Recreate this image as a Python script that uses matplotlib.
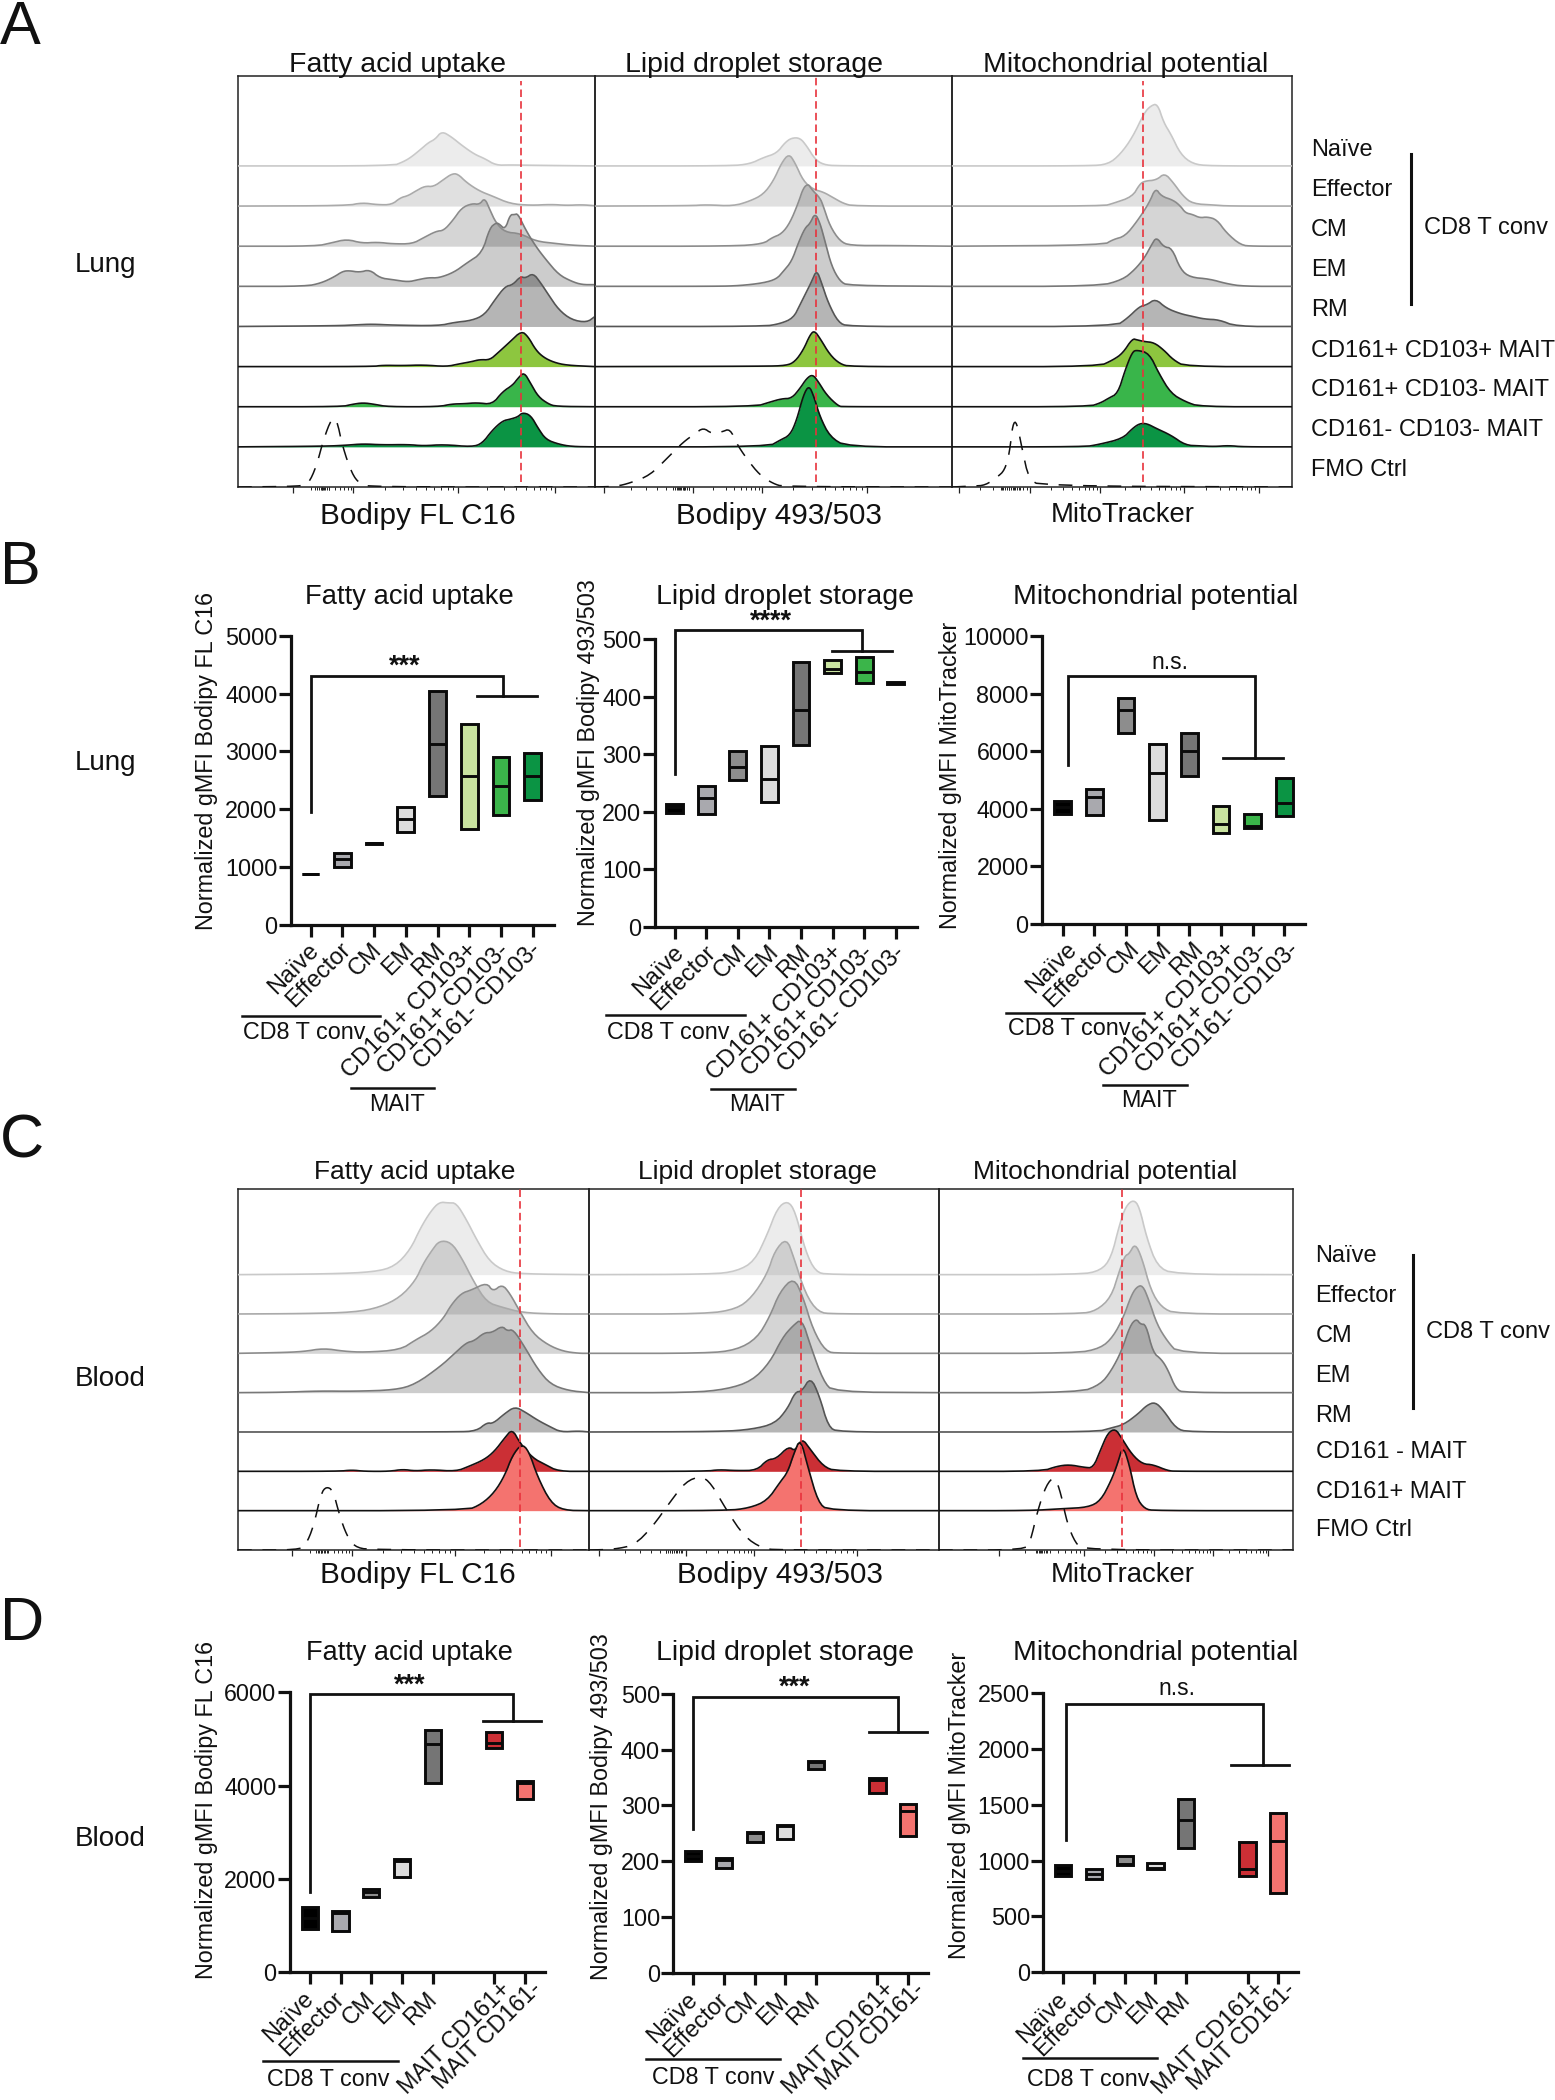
import numpy as np
import matplotlib
matplotlib.use("Agg")
import matplotlib.pyplot as plt
from matplotlib.transforms import ScaledTranslation

plt.rcParams['font.family'] = ['Liberation Sans', 'DejaVu Sans']
W, H, DPI = 1555, 2100, 100

# ------------------ histogram traces (channel, count) ------------------
A1_naive = [(467,0),(770,0),(790,12),(805,25),(825,50),(840,70),(853,80),(866,104),(885,87),(905,62),(930,35),(950,22),(972,2),(1000,3),(1040,2),(1166,0)]
A1_eff = [(467,0),(680,1),(710,10),(740,4),(768,4),(785,25),(800,31),(815,45),(833,60),(850,58),(870,80),(885,96),(897,97),(915,70),(940,45),(965,30),(1000,7),(1040,2),(1080,5),(1110,2),(1140,4),(1166,1)]
A1_cm = [(467,0),(620,0),(650,10),(680,21),(710,9),(740,12),(770,7),(808,7),(830,25),(855,45),(870,47),(888,78),(905,115),(925,128),(940,125),(950,145),(960,110),(972,70),(990,42),(1020,38),(1050,15),(1090,8),(1120,3),(1166,0)]
A1_em = [(467,0),(600,0),(630,10),(655,28),(672,45),(685,47),(705,42),(725,50),(745,25),(770,20),(800,13),(820,20),(840,26),(860,25),(890,42),(915,70),(945,100),(960,175),(972,190),(978,188),(990,170),(1000,215),(1008,215),(1015,218),(1030,170),(1050,120),(1070,80),(1095,35),(1120,15),(1140,5),(1166,5)]
A1_rm = [(467,0),(660,2),(700,5),(730,7),(770,4),(860,2),(890,12),(925,18),(950,35),(970,80),(990,120),(1005,125),(1020,150),(1030,145),(1045,160),(1060,130),(1075,95),(1095,50),(1120,20),(1150,12),(1166,30)]
A1_m1 = [(467,0),(730,0),(750,4),(790,3),(830,5),(875,0),(900,8),(925,15),(940,21),(960,20),(975,40),(1000,75),(1022,107),(1035,90),(1050,50),(1065,28),(1085,13),(1110,4),(1166,0)]
A1_m2 = [(467,0),(670,0),(690,7),(712,12),(735,7),(760,0),(860,0),(885,8),(910,9),(935,12),(965,7),(985,45),(1005,65),(1015,85),(1027,104),(1040,70),(1055,30),(1075,8),(1090,1),(1166,0)]
A1_m3 = [(467,0),(640,2),(680,5),(712,9),(750,6),(800,7),(830,3),(870,7),(925,0),(945,10),(965,50),(985,78),(1000,83),(1015,90),(1024,103),(1040,95),(1055,55),(1070,22),(1095,8),(1120,1),(1166,0)]
A1_fmo = [(467,0),(590,2),(605,10),(620,60),(635,145),(650,205),(660,205),(672,120),(690,40),(705,10),(725,0),(1166,0)]

A2_naive = [(15,0),(420,0),(480,6),(520,25),(560,38),(585,70),(605,84),(630,84),(650,60),(675,20),(700,4),(740,0),(1086,0)]
A2_eff = [(15,0),(300,1),(350,4),(430,0),(480,15),(520,35),(550,75),(575,130),(597,157),(615,130),(640,75),(670,50),(700,42),(730,25),(760,8),(790,0),(1086,0)]
A2_cm = [(15,0),(430,0),(520,7),(545,25),(575,37),(600,70),(625,130),(640,175),(655,187),(665,170),(690,145),(700,120),(720,60),(750,15),(780,2),(900,2),(1086,0)]
A2_em = [(15,0),(380,0),(450,2),(520,10),(560,22),(580,45),(605,75),(625,130),(645,175),(660,188),(675,220),(690,190),(705,135),(725,60),(750,15),(775,2),(1086,0)]
A2_rm = [(15,0),(520,0),(570,8),(610,25),(630,65),(650,105),(665,135),(680,170),(695,130),(715,70),(745,12),(775,0),(1086,0)]
A2_m1 = [(15,0),(520,1),(590,3),(615,15),(640,50),(660,95),(673,108),(690,85),(720,35),(750,8),(780,0),(1086,0)]
A2_m2 = [(15,0),(495,0),(540,14),(575,24),(605,25),(630,55),(650,85),(668,97),(685,75),(710,35),(745,2),(760,0),(1086,0)]
A2_m3 = [(15,0),(535,0),(570,20),(600,35),(620,80),(640,155),(657,185),(672,150),(690,90),(720,30),(770,0),(1086,0)]
A2_fmo = [(15,0),(80,2),(120,12),(180,35),(235,90),(280,135),(315,160),(340,178),(365,160),(395,165),(420,175),(440,130),(470,85),(510,35),(550,10),(580,1),(1086,0)]

A3_naive = [(316,0),(600,0),(640,5),(665,35),(690,85),(715,160),(728,180),(742,187),(755,130),(770,95),(790,35),(815,6),(850,0),(1021,0)]
A3_eff = [(316,0),(630,0),(650,8),(690,28),(705,65),(715,75),(740,78),(757,99),(775,70),(795,30),(815,7),(860,3),(890,0),(1021,0)]
A3_cm = [(316,0),(630,3),(650,20),(675,30),(700,75),(725,130),(738,175),(750,150),(775,138),(790,120),(800,100),(815,95),(830,85),(845,88),(865,80),(885,40),(915,3),(940,0),(1021,0)]
A3_em = [(316,0),(620,0),(670,20),(695,50),(715,85),(730,125),(740,148),(755,118),(772,115),(790,50),(810,27),(850,22),(885,8),(920,0),(1021,0)]
A3_rm = [(316,0),(655,0),(680,25),(705,60),(720,65),(738,83),(760,55),(790,38),(815,30),(840,22),(870,20),(905,0),(1021,0)]
A3_m1 = [(316,0),(620,0),(650,20),(670,40),(690,84),(700,80),(715,75),(735,72),(755,50),(775,20),(800,0),(1021,0)]
A3_m2 = [(316,0),(600,0),(625,12),(640,25),(660,40),(675,110),(690,165),(700,170),(725,160),(745,100),(770,40),(800,15),(830,0),(1021,0)]
A3_m3 = [(316,0),(590,0),(620,7),(670,25),(690,55),(705,70),(720,70),(740,55),(770,35),(800,5),(830,3),(860,1),(890,4),(920,0),(1021,0)]
A3_fmo = [(316,0),(360,3),(385,5),(410,30),(425,50),(435,100),(442,190),(450,197),(462,110),(475,25),(500,3),(1021,0)]

C1_naive = [(172,0),(350,2),(440,8),(480,25),(510,75),(530,140),(550,190),(567,218),(585,215),(600,215),(620,165),(640,105),(665,40),(695,10),(730,2),(861,0)]
C1_eff = [(172,0),(300,1),(400,5),(450,20),(490,50),(520,100),(535,150),(552,190),(567,220),(590,215),(610,170),(635,95),(660,35),(690,20),(730,4),(790,0),(861,0)]
C1_cm = [(172,0),(250,2),(300,5),(340,15),(380,6),(420,3),(490,10),(520,40),(550,65),(575,105),(590,145),(610,180),(630,190),(660,212),(672,185),(690,207),(705,180),(725,125),(750,60),(780,25),(810,6),(840,0),(861,0)]
C1_em = [(172,0),(260,1),(330,5),(400,4),(480,8),(520,25),(570,80),(595,115),(620,150),(635,155),(655,180),(670,180),(690,200),(700,185),(712,190),(735,135),(760,70),(785,25),(820,6),(861,0)]
C1_rm = [(172,0),(600,0),(640,3),(660,28),(672,25),(695,55),(715,76),(735,60),(760,35),(785,15),(805,0),(840,3),(861,0)]
C1_r1 = [(172,0),(370,0),(395,4),(420,0),(470,0),(495,6),(520,1),(550,5),(600,0),(625,15),(655,35),(675,60),(695,100),(710,127),(725,85),(750,40),(775,20),(800,0),(861,0)]
C1_r2 = [(172,0),(620,0),(650,20),(675,55),(695,105),(710,165),(728,200),(742,180),(760,100),(785,25),(810,1),(861,0)]
C1_fmo = [(172,0),(290,0),(305,15),(320,70),(335,170),(345,190),(358,180),(372,100),(385,45),(400,10),(430,0),(861,0)]

C2_naive = [(861,0),(1100,1),(1150,10),(1185,40),(1210,120),(1230,200),(1250,222),(1265,190),(1285,70),(1305,8),(1330,0),(1547,0)]
C2_eff = [(861,0),(1090,0),(1150,15),(1180,50),(1210,120),(1225,190),(1248,228),(1262,170),(1285,60),(1310,5),(1340,0),(1547,0)]
C2_cm = [(861,0),(1090,0),(1150,10),(1190,45),(1215,110),(1235,185),(1262,228),(1280,170),(1300,70),(1325,5),(1350,0),(1547,0)]
C2_em = [(861,0),(1060,0),(1130,10),(1180,35),(1215,90),(1240,165),(1260,200),(1278,222),(1295,140),(1320,35),(1340,2),(1547,0)]
C2_rm = [(861,0),(1120,1),(1180,8),(1225,25),(1250,70),(1265,120),(1278,122),(1295,165),(1312,110),(1330,15),(1350,0),(1547,0)]
C2_r1 = [(861,0),(1090,0),(1115,5),(1150,2),(1190,3),(1210,35),(1228,38),(1252,75),(1265,60),(1278,100),(1295,65),(1320,15),(1345,0),(1547,0)]
C2_r2 = [(861,0),(1130,0),(1175,8),(1210,30),(1235,85),(1250,115),(1262,170),(1275,218),(1290,130),(1310,25),(1330,0),(1547,0)]
C2_fmo = [(861,0),(910,2),(950,15),(985,70),(1020,145),(1050,205),(1080,222),(1100,200),(1130,120),(1165,40),(1200,5),(1230,0),(1547,0)]

C3_naive = [(94,0),(430,0),(480,12),(505,50),(525,150),(540,205),(558,225),(572,205),(590,110),(615,25),(655,1),(938,0)]
C3_eff = [(94,0),(430,0),(470,10),(505,50),(525,130),(538,175),(548,180),(562,212),(578,170),(600,70),(625,20),(660,0),(938,0)]
C3_cm = [(94,0),(420,0),(480,15),(510,50),(535,110),(552,170),(565,198),(580,205),(595,160),(615,85),(640,35),(665,0),(938,0)]
C3_em = [(94,0),(430,0),(480,25),(505,65),(530,125),(550,200),(565,222),(575,205),(588,205),(605,120),(625,100),(640,70),(660,10),(680,0),(938,0)]
C3_rm = [(94,0),(470,0),(505,12),(535,22),(570,55),(590,80),(610,90),(630,65),(660,10),(690,0),(938,0)]
C3_r1 = [(94,0),(340,0),(375,15),(405,20),(440,12),(462,10),(480,65),(497,115),(515,128),(530,100),(555,50),(580,22),(605,20),(640,2),(660,0),(938,0)]
C3_r2 = [(94,0),(310,0),(390,6),(450,10),(480,30),(505,90),(520,140),(533,195),(548,140),(565,40),(585,5),(610,0),(938,0)]
C3_fmo = [(94,0),(300,0),(312,25),(330,120),(350,195),(370,222),(385,170),(400,80),(420,20),(440,0),(938,0)]

# ------------------ floating-bar values ------------------
B_cats = ['Naïve','Effector','CM','EM','RM','CD161+ CD103+','CD161+ CD103-','CD161- CD103-']
B1_low  = [868,990,1400,1604,2229,1660,1901,2155]
B1_med  = [872,1132,1406,1825,3137,2568,2407,2574]
B1_high = [876,1249,1412,2041,4046,3476,2907,2975]
B2_low  = [197,196,255,216,316,441,423,421]
B2_med  = [208,224,277,257,376,448,443,423]
B2_high = [213,245,306,314,460,463,468,425]
B3_low  = [3819,3794,6632,3596,5132,3150,3336,3745]
B3_med  = [4050,4399,7423,5254,5998,3482,3408,4213]
B3_high = [4260,4694,7854,6255,6639,4099,3814,5078]

D_cats = ['Naïve','Effector','CM','EM','RM','MAIT CD161+','MAIT CD161-']
D_pos = [0,1,2,3,4,6,7]
D1_low  = [919,883,1612,2042,4052,4802,3715]
D1_med  = [1150,1260,1723,2390,4890,4920,4060]
D1_high = [1385,1313,1778,2428,5182,5146,4102]
D2_low  = [200,188,234,239,365,322,246]
D2_med  = [210,203,250,263,378,345,290]
D2_high = [218,206,252,265,380,350,303]
D3_low  = [864,837,957,924,1112,864,709]
D3_med  = [910,879,965,932,1365,929,1171]
D3_high = [964,922,1041,982,1549,1170,1424]

A_rows = ['Naïve','Effector','CM','EM','RM','CD161+ CD103+ MAIT','CD161+ CD103- MAIT','CD161- CD103- MAIT','FMO Ctrl']
C_rows = ['Naïve','Effector','CM','EM','RM','CD161 - MAIT','CD161+ MAIT','FMO Ctrl']

GRAY_A = [.075,.12,.165,.2,.29]
GRAY_L = ['#c9c9c9','#aaaaaa','#8c8c8c','#787878','#555555']
GREEN = ['#8dc63f','#39b54a','#0b9444']
REDS = ['#cb2f35','#f4736f']
B_col = ['#000000','#a9a9ae','#8d8d8d','#dddddd','#757575','#c9e3a0','#3bb54a','#0b9444']
D_col = ['#000000','#a9a9ae','#8d8d8d','#dddddd','#757575','#cc2f35','#f4736f']

fig = plt.figure(figsize=(W/DPI, H/DPI), dpi=DPI, facecolor='white')

def axpx(l, t, r, b):
    return fig.add_axes([l/W, 1-b/H, (r-l)/W, (b-t)/H])

def T(x, y, s, fs=16.5, ha='center', va='center', **k):
    if va == 'center':
        if k.get('rotation'):
            x += 2.5
        else:
            y += 2.5
    return fig.text(x/W, 1-y/H, s, fontsize=fs, ha=ha, va=va, color='#111111', **k)

def minors(majors, cluster):
    out = list(cluster)
    m = list(majors)
    fr = np.log10(np.arange(2, 10))
    for a, b in zip(m[:-1], m[1:]):
        out += list(a + (b-a)*fr)
    return out

def rounded(x, y, n=2):
    """Round the corners of a trace when it is drawn (the read values stay as they are)."""
    p = np.column_stack([x, y]).astype(float)
    for _ in range(n):
        q = np.empty((2*(len(p)-1), 2))
        q[0::2] = .75*p[:-1] + .25*p[1:]
        q[1::2] = .25*p[:-1] + .75*p[1:]
        p = np.vstack([p[:1], q, p[-1:]])
    return p[:, 0], p[:, 1]

def ridge(box, xlim, rows, spacing, top, curves, reds, majors, cluster, redspan):
    ax = axpx(*box)
    ax.set_xlim(*xlim); ax.set_ylim(0, top)
    n = len(curves)
    for i, tr in enumerate(curves):
        x, h = rounded([p[0] for p in tr], [p[1] for p in tr])
        base = (n-1-i)*spacing
        y = base + h
        if i == n-1:                                    # FMO control
            ax.plot(x, y, color='#111111', lw=1.1, dashes=(9, 7), zorder=6)
            continue
        if i < 5:
            ax.fill_between(x, base, y, color='k', alpha=GRAY_A[i], lw=0, zorder=2+i*.1)
            ax.plot(x, y, color=GRAY_L[i], lw=1.2, zorder=3+i*.1)
        else:
            col = rows[i-5]
            ax.fill_between(x, base, y, color=col, lw=0, zorder=3.5+i*.1)
            ax.plot(x, y, color='#111111', lw=1.2, zorder=3.6+i*.1)
    ax.axvline(reds, ymin=redspan[0], ymax=redspan[1], color='#e8323c', lw=1.2, dashes=(4.5, 2.5), zorder=8)
    for s in ax.spines.values():
        s.set_linewidth(1.1); s.set_color('#222222')
    ax.set_yticks([])
    ax.set_xticks(majors)
    ax.set_xticks(minors(majors, cluster), minor=True)
    ax.tick_params(axis='x', which='major', length=4.5, width=.9, labelbottom=False, color='#222222')
    ax.tick_params(axis='x', which='minor', length=2.2, width=.7, color='#222222')
    ax.patch.set_alpha(0)
    return ax

# ------------- Panel A
spA, topA = 120.4, 1233
ridge((238,76,595,487),(467,1166),GREEN,spA,topA,[A1_naive,A1_eff,A1_cm,A1_em,A1_rm,A1_m1,A1_m2,A1_m3,A1_fmo],1022,[575,693,897,1088],[618,622,626,630,632,634,636,638,642,646],(.012,.988))
ridge((595,76,952,487),(15,1086),GREEN,spA,topA,[A2_naive,A2_eff,A2_cm,A2_em,A2_rm,A2_m1,A2_m2,A2_m3,A2_fmo],677,[42,308,515,830],[255,260,265,270,274,278,282,286,292,298],(.012,1))
ridge((952,76,1292,487),(316,1021),GREEN,spA,topA,[A3_naive,A3_eff,A3_cm,A3_em,A3_rm,A3_m1,A3_m2,A3_m3,A3_fmo],712,[330,478,623,797,952],[418,422,426,430,434,438,442,446,450,456],(.012,.988))

# ------------- Panel C
spC, topC = 118, 1082
ridge((238,1189.3,589.3,1550),(172,861),REDS,spC,topC,[C1_naive,C1_eff,C1_cm,C1_em,C1_rm,C1_r1,C1_r2,C1_fmo],726,[278,395,597,785],[325,328,331,334,337,340,343,346],(.008,1))
ridge((589.3,1189.3,939,1550),(861,1547),REDS,spC,topC,[C2_naive,C2_eff,C2_cm,C2_em,C2_rm,C2_r1,C2_r2,C2_fmo],1276,[880,1050,1185,1387],[1012,1016,1020,1024,1028,1032,1036,1040],(.008,1))
ridge((939,1189.3,1292.5,1550),(94,938),REDS,spC,topC,[C3_naive,C3_eff,C3_cm,C3_em,C3_rm,C3_r1,C3_r2,C3_fmo],531,[238,440,607,747,880],[325,329,333,337,341,345,349,353],(.008,1))

# ------------- row labels, headers
for y, s in zip([147,187,228,268,307,348.6,387,428,468], A_rows):
    T(1311, y, s, 17, ha='left')
for y, s in zip([1253,1294,1333,1373,1413,1449,1489,1528], C_rows):
    T(1315.5, y, s, 17, ha='left')
fig.add_artist(plt.Line2D([1410.5/W]*2, [1-153.7/H, 1-304/H], color='#111111', lw=2.2))
T(1423.5, 225.7, 'CD8 T conv', 17, ha='left')
fig.add_artist(plt.Line2D([1412.6/W]*2, [1-1255/H, 1-1407.7/H], color='#111111', lw=2.2))
T(1426, 1329, 'CD8 T conv', 17, ha='left')

for x, s in zip([398,754,1125.5], ['Fatty acid uptake','Lipid droplet storage','Mitochondrial potential']):
    T(x, 62, s, 20.5)
for x, s, f in zip([418,779,1122.6], ['Bodipy FL C16','Bodipy 493/503','MitoTracker'], [21.4,21.3,19.8]):
    T(x, 513, s, f)
for x, s in zip([415,757,1105], ['Fatty acid uptake','Lipid droplet storage','Mitochondrial potential']):
    T(x, 1170, s, 19)
for x, s, f in zip([418,780,1123], ['Bodipy FL C16','Bodipy 493/503','MitoTracker'], [21.4,21.3,19.8]):
    T(x, 1572.7, s, f)
for x, y, s, f in [(409,595,'Fatty acid uptake',19.7),(785,595,'Lipid droplet storage',20.5),(1156,595,'Mitochondrial potential',20.5),
                (409,1650.7,'Fatty acid uptake',19.5),(785,1650.7,'Lipid droplet storage',20.5),(1156,1650.7,'Mitochondrial potential',20.5)]:
    T(x, y, s, f)
for y, s in [(262,'Lung'),(760,'Lung'),(1376,'Blood'),(1836,'Blood')]:
    T(75, y, s, 20, ha='left')
for y, s in [(44,'A'),(584,'B'),(1157,'C'),(1640,'D')]:
    T(0, y, s, 44, ha='left', va='baseline')

# ------------- floating bars
def bars(box, pos, cats, low, med, high, cols, ylim, yticks, span, ylabel, ylab_xy, bracket, sig, sig_xy, lab_off, lab_fs=17):
    ax = axpx(*box)
    ax.set_xlim(*span); ax.set_ylim(*ylim)
    low, med, high = map(np.array, (low, med, high))
    ax.bar(pos, high-low, bottom=low, width=.53, color=cols, edgecolor='#0a0a0a', linewidth=2.1, zorder=3)
    ax.hlines(med, np.array(pos)-.265, np.array(pos)+.265, color='#0a0a0a', lw=2.1, zorder=4)
    for s in ('top','right'):
        ax.spines[s].set_visible(False)
    for s in ('left','bottom'):
        ax.spines[s].set_linewidth(2.3); ax.spines[s].set_color('#111111')
    ax.set_yticks(yticks); ax.set_xticks(pos)
    ax.tick_params(axis='both', length=8.6, width=2.3, color='#111111', labelsize=16.8, labelcolor='#111111')
    ax.tick_params(axis='y', pad=1)
    ax.tick_params(axis='x', pad=1)
    ax.set_xticklabels(cats, rotation=45, ha='right', va='top', rotation_mode='anchor', fontsize=lab_fs)
    for lb, (dx, dy) in zip(ax.get_xticklabels(), lab_off):
        lb.set_transform(lb.get_transform() + ScaledTranslation(dx/DPI, dy/DPI, fig.dpi_scale_trans))
    ax.patch.set_alpha(0)
    T(ylab_xy[0], ylab_xy[1], ylabel, 16.8, rotation=90)
    (x0, y0low, ytop, x1, y1low, barl, barr) = bracket
    ax.plot([x0, x0, x1, x1], [y0low, ytop, ytop, y1low], color='#111111', lw=2.0, clip_on=False, zorder=5, solid_joinstyle='miter')
    ax.plot([barl, barr], [y1low, y1low], color='#111111', lw=2.0, clip_on=False, zorder=5)
    if sig == 'n.s.':
        T(sig_xy[0], sig_xy[1]-2, sig, 16.5)
    else:
        T(sig_xy[0], sig_xy[1]+3, sig, 19.5, fontweight='bold')
    return ax

off_b1 = [(-3,-1)]*8
off_b2 = [(-2,-1)]*8
off_b3 = [(3,-1)]*8
off_d = [(-8,-2)]*5 + [(5,8)]*2

bars((290.6,636,554,924.6), list(range(8)), B_cats, B1_low, B1_med, B1_high, B_col, (0,5000), [0,1000,2000,3000,4000,5000], (-.634,7.675),
     'Normalized gMFI Bodipy FL C16', (203.6,761), (0,1950,4307,6.08,3953,5.25,7.13), '***', (404.5,661), off_b1)
bars((654.5,639,917,926.8), list(range(8)), B_cats, B2_low, B2_med, B2_high, B_col, (0,500), [0,100,200,300,400,500], (-.633,7.67),
     'Normalized gMFI Bodipy 493/503', (586,753), (0,265,515,5.94,480,4.98,6.87), '****', (770.5,616), off_b2)
bars((1042,636,1305,924), list(range(8)), B_cats, B3_low, B3_med, B3_high, B_col, (0,10000), [0,2000,4000,6000,8000,10000], (-.65,7.65),
     'Normalized gMFI MitoTracker', (948,775), (.17,5520,8600,6.07,5760,5.07,6.94), 'n.s.', (1170,662), off_b3)

bars((289.9,1692.3,544.8,1972), D_pos, D_cats, D1_low, D1_med, D1_high, D_col, (0,6000), [0,2000,4000,6000], (-.648,7.65),
     'Normalized gMFI Bodipy FL C16', (203.6,1810), (0,1724,5973,6.62,5393,5.64,7.52), '***', (409.3,1680), off_d, 16.8)
bars((673.4,1694,928,1972.7), D_pos, D_cats, D2_low, D2_med, D2_high, D_col, (0,500), [0,100,200,300,400,500], (-.648,7.65),
     'Normalized gMFI Bodipy 493/503', (598.7,1807), (0,257,495,6.66,432,5.73,7.63), '***', (794.8,1682), off_d, 16.8)
bars((1043.3,1693,1298.3,1972.3), D_pos, D_cats, D3_low, D3_med, D3_high, D_col, (0,2500), [0,500,1000,1500,2000,2500], (-.65,7.65),
     'Normalized gMFI MitoTracker', (956.7,1805), (.08,1180,2401,6.51,1858,5.47,7.36), 'n.s.', (1177,1687.7), off_d, 16.8)

# ------------- group annotations under the axes
def group(x0, x1, y, tx, ty, s):
    fig.add_artist(plt.Line2D([x0/W, x1/W], [1-y/H]*2, color='#111111', lw=1.8))
    T(tx, ty, s, 16.8)

group(242.4,380,1016,304.5,1029.6,'CD8 T conv'); group(351,434.4,1087.9,397,1102,'MAIT')
group(606,744.6,1015,668,1029.6,'CD8 T conv'); group(710.7,794.6,1088.6,757,1102,'MAIT')
group(1006,1144,1012.5,1069,1026,'CD8 T conv'); group(1102.7,1186.7,1085,1149,1098,'MAIT')
group(263,397.7,2061,328,2076.7,'CD8 T conv')
group(646.4,780.3,2059.3,713.6,2075,'CD8 T conv')
group(1023.3,1157.3,2058,1088.3,2076.7,'CD8 T conv')

fig.savefig('out.png', dpi=DPI, facecolor='white')
